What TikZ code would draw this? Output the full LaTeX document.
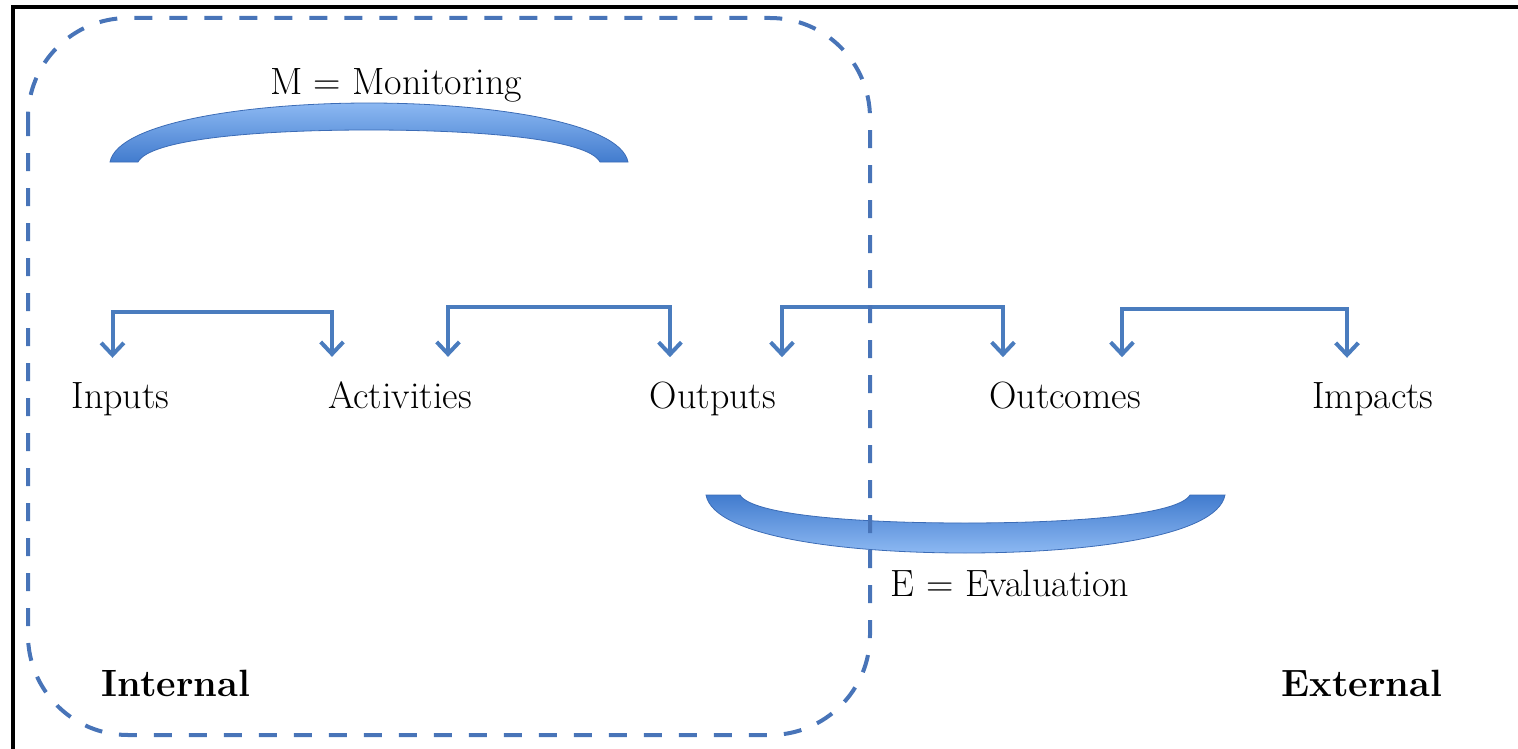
\documentclass[tikz,border=0pt]{standalone}
\usetikzlibrary{arrows.meta,calc}
\definecolor{arcLight}{RGB}{140,184,242}
\definecolor{arcDark}{RGB}{66,124,206}
\definecolor{arcEdge}{RGB}{60,108,182}
\begin{document}
\begin{tikzpicture}[x=0.75pt,y=0.75pt,yscale=-1,xscale=1,
  lbl/.style={font=\fontsize{28.5}{34}\selectfont,inner sep=0pt,anchor=base},
  bold lbl/.style={lbl,font=\fontsize{28.5}{34}\selectfont\bfseries},
  brk/.style={draw={rgb,255:red,74;green,124;blue,190},line width=3pt,
    {Straight Barb[length=9pt,width=17pt]}-{Straight Barb[length=9pt,width=17pt]}},
  dashbox/.style={draw={rgb,255:red,72;green,116;blue,184},line width=3pt,
    dash pattern=on 13.5pt off 12.75pt,rounded corners=75pt},
  mon arc/.style={draw=arcEdge,line width=0.6pt,top color=arcLight,bottom color=arcDark},
  eval arc/.style={draw=arcEdge,line width=0.6pt,top color=arcDark,bottom color=arcLight}]
\useasboundingbox (0,0) rectangle (1518,749);

%Shape: Frame 
\draw [line width=2.6pt] (13,749) -- (13,7) -- (1518,7) ;

%Shape: Monitoring arc 
\draw [mon arc] (110,162) .. controls (118,122) and (250,103) .. (369,103) .. controls (488,103) and (620,122) .. (628,162) -- (600,162) .. controls (588,139) and (480,130) .. (369,130) .. controls (258,130) and (150,139) .. (138,162) -- cycle ;
%Shape: Evaluation arc 
\draw [eval arc] (706,495) .. controls (714,537) and (845,553) .. (965,553) .. controls (1085,553) and (1217,537) .. (1225,495) -- (1190,495) .. controls (1178,515) and (1075,523) .. (965,523) .. controls (855,523) and (752,515) .. (740,495) -- cycle ;

% Text Node
\node [lbl] (mon) at (396,95) {M = Monitoring};
% Text Node
\node [lbl] (inp) at (120.5,408) {Inputs};
% Text Node
\node [lbl] (act) at (400,408) {Activities};
% Text Node
\node [lbl] (outp) at (713,408) {Outputs};
% Text Node
\node [lbl] (outc) at (1065,408) {Outcomes};
% Text Node
\node [lbl] (imp) at (1373,408) {Impacts};
% Text Node
\node [lbl] (eval) at (1010,596) {E = Evaluation};
% Text Node
\node [bold lbl] (int) at (176,696) {Internal};
% Text Node
\node [bold lbl] (ext) at (1362,696) {External};

%Straight Lines: brackets 
\draw [brk] ($(inp.north)+(-8,-24)$) -- ++(0,-46) -| ($(act.north)+(-68,-24)$) ;
\draw [brk] ($(act.north)+(48,-24)$) -- ++(0,-50) -| ($(outp.north)+(-43,-24)$) ;
\draw [brk] ($(outp.north)+(69,-24)$) -- ++(0,-50) -| ($(outc.north)+(-62,-24)$) ;
\draw [brk] ($(outc.north)+(57,-24)$) -- ++(0,-48) -| ($(imp.north)+(-26,-24)$) ;

%Shape: Internal boundary 
\draw [dashbox] (28,18) rectangle (870,735) ;

\end{tikzpicture}
\end{document}
